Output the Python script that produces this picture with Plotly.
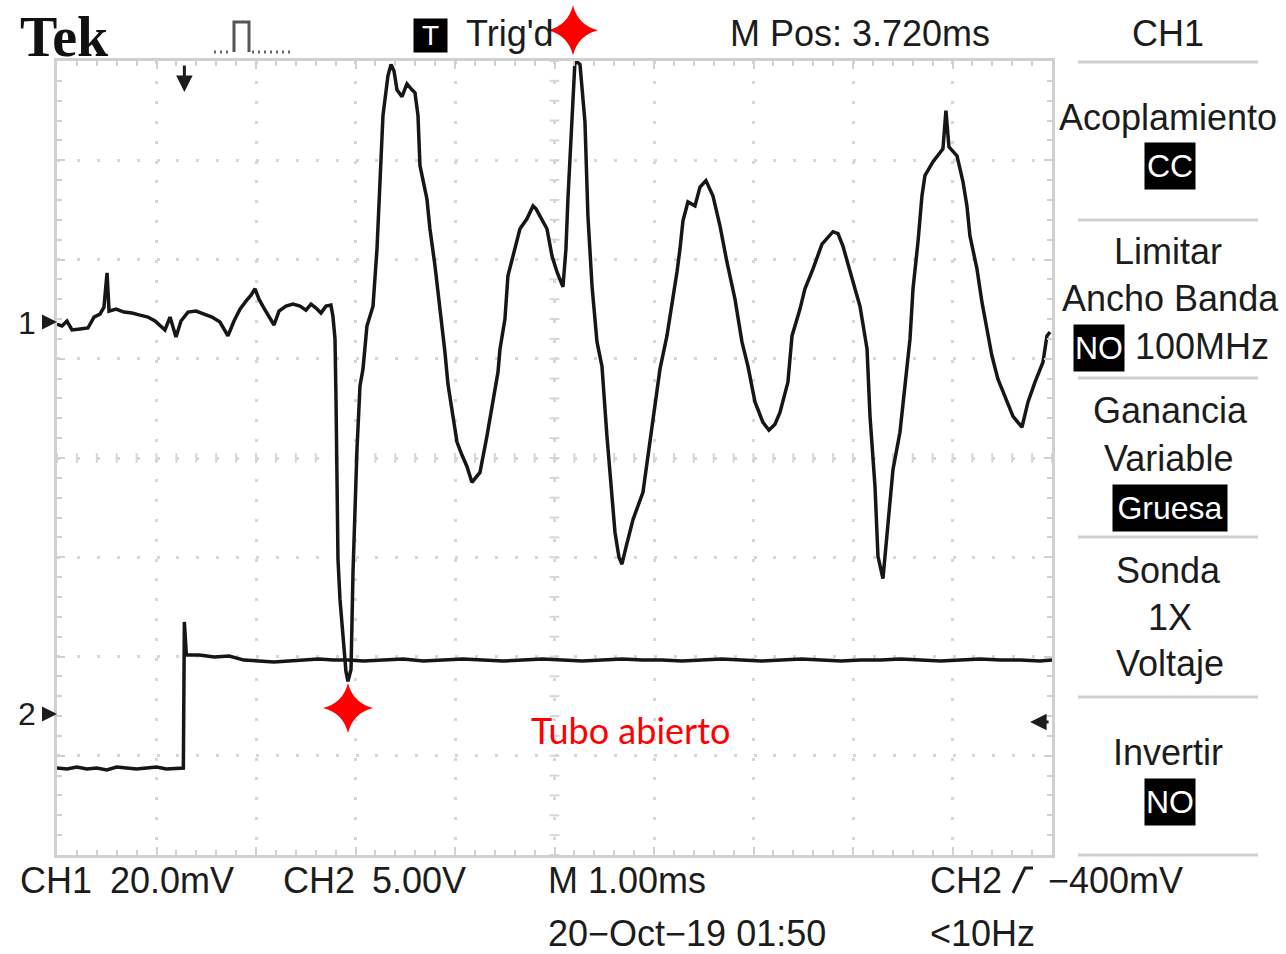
import numpy as np
import plotly.graph_objects as go

# ---- readings taken off the screen (time in ms, CH1 in mV, CH2 in V) ----
ch1_time_ms = [
    -1.280, -1.230, -1.180, -1.129, -1.049, -0.969, -0.908, -0.848, -0.808, -0.777,
    -0.757, -0.687, -0.607, -0.526, -0.446, -0.366, -0.295, -0.245, -0.195, -0.144,
    -0.084, -0.034, 0.037, 0.117, 0.197, 0.278, 0.358, 0.438, 0.499, 0.559,
    0.619, 0.670, 0.710, 0.750, 0.800, 0.861, 0.901, 0.951, 1.021, 1.092,
    1.162, 1.222, 1.273, 1.323, 1.373, 1.423, 1.473, 1.493, 1.514, 1.524,
    1.534, 1.544, 1.564, 1.594, 1.624, 1.644, 1.675, 1.695, 1.715, 1.735,
    1.765, 1.795, 1.835, 1.896, 1.936, 1.966, 1.996, 2.046, 2.077, 2.107,
    2.137, 2.187, 2.237, 2.288, 2.318, 2.348, 2.368, 2.438, 2.468, 2.519,
    2.569, 2.619, 2.649, 2.700, 2.740, 2.790, 2.840, 2.890, 2.931, 2.971,
    3.041, 3.102, 3.152, 3.172, 3.222, 3.252, 3.323, 3.373, 3.443, 3.504,
    3.534, 3.574, 3.644, 3.695, 3.745, 3.805, 3.835, 3.855, 3.896, 3.926,
    3.976, 4.026, 4.056, 4.097, 4.147, 4.197, 4.247, 4.298, 4.328, 4.368,
    4.398, 4.438, 4.509, 4.609, 4.680, 4.730, 4.780, 4.850, 4.901, 4.951,
    4.981, 5.011, 5.061, 5.132, 5.182, 5.242, 5.313, 5.383, 5.453, 5.534,
    5.604, 5.664, 5.735, 5.815, 5.875, 5.936, 5.986, 6.066, 6.107, 6.187,
    6.237, 6.318, 6.408, 6.519, 6.569, 6.619, 6.720, 6.790, 6.861, 6.891,
    6.941, 6.971, 7.021, 7.072, 7.122, 7.192, 7.242, 7.293, 7.323, 7.373,
    7.413, 7.443, 7.524, 7.574, 7.624, 7.654, 7.684, 7.765, 7.825, 7.865,
    7.895, 7.966, 8.016, 8.066, 8.116, 8.177, 8.267, 8.328, 8.418, 8.479,
    8.549, 8.629, 8.669, 8.700,
]
ch1_mv = [
    -0.4, -0.8, 0.2, -1.6, -1.4, -1.2, 1.0, 1.6, 3.0, 9.9,
    2.2, 2.6, 2.0, 1.8, 1.4, 1.0, 0.2, -0.8, -1.6, 1.0,
    -3.0, 0.2, 2.0, 2.2, 1.6, 1.0, 0.0, -2.8, 0.2, 2.6,
    4.2, 5.4, 6.7, 4.6, 2.8, 0.6, -0.6, 2.2, 3.2, 3.6,
    3.2, 2.4, 3.6, 2.8, 1.8, 3.2, 3.4, 1.2, -3.4, -15.5,
    -31.7, -47.8, -55.9, -64.0, -70.4, -72.4, -70.0, -50.4, -35.7, -25.6,
    -12.9, -9.5, -0.8, 3.2, 14.7, 30.3, 41.6, 49.6, 51.9, 50.6,
    46.8, 45.4, 48.0, 46.8, 46.2, 41.6, 31.5, 24.8, 18.8, 11.3,
    3.2, -6.1, -12.5, -19.0, -24.2, -26.8, -29.1, -32.3, -31.3, -30.3,
    -23.0, -16.2, -10.1, -5.5, 0.6, 9.3, 14.7, 18.8, 20.8, 23.4,
    22.8, 21.4, 18.8, 13.3, 10.1, 7.1, 14.7, 24.8, 41.0, 52.7,
    51.9, 40.4, 21.4, 7.3, -4.0, -8.9, -23.0, -34.3, -42.4, -47.4,
    -48.8, -45.4, -39.8, -34.3, -24.2, -17.0, -9.5, -2.8, 3.2, 10.1,
    14.7, 20.4, 24.2, 23.4, 27.2, 28.5, 25.4, 19.4, 12.1, 4.6,
    -4.0, -8.9, -16.1, -20.2, -21.8, -20.6, -18.2, -12.1, -2.8, 2.6,
    6.7, 10.7, 15.7, 18.2, 17.8, 15.3, 8.1, 3.2, -5.4, -19.0,
    -33.1, -47.2, -51.7, -41.2, -29.7, -22.2, -12.9, -3.4, 6.7, 16.1,
    25.4, 29.5, 32.3, 33.5, 34.9, 42.6, 35.3, 33.5, 28.3, 23.4,
    17.4, 10.7, 4.0, -1.4, -6.8, -11.5, -16.1, -19.0, -21.2, -16.1,
    -12.1, -8.1, -2.8, -2.0,
]

ch2_time_ms = [
    -1.28, -1.18, -1.08, -0.98, -0.88, -0.78, -0.68, -0.58, -0.48, -0.38,
    -0.28, -0.18, -0.08, -0.01, 0.0, 0.02, 0.15, 0.3, 0.45, 0.6,
    0.75, 0.9, 1.05, 1.2, 1.35, 1.5, 1.65, 1.8, 2.0, 2.2,
    2.4, 2.6, 2.8, 3.0, 3.2, 3.4, 3.6, 3.8, 4.0, 4.2,
    4.4, 4.6, 4.8, 5.0, 5.2, 5.4, 5.6, 5.8, 6.0, 6.2,
    6.4, 6.6, 6.8, 7.0, 7.2, 7.4, 7.6, 7.8, 8.0, 8.2,
    8.4, 8.6, 8.72,
]
ch2_v = [
    -2.72, -2.77, -2.67, -2.77, -2.72, -2.82, -2.67, -2.72, -2.77, -2.72,
    -2.67, -2.77, -2.72, -2.72, 4.64, 2.97, 2.97, 2.87, 2.92, 2.72,
    2.67, 2.62, 2.67, 2.72, 2.77, 2.72, 2.72, 2.67, 2.72, 2.77,
    2.67, 2.72, 2.77, 2.72, 2.67, 2.72, 2.77, 2.72, 2.67, 2.72,
    2.77, 2.72, 2.72, 2.67, 2.72, 2.77, 2.72, 2.67, 2.72, 2.77,
    2.72, 2.67, 2.72, 2.72, 2.77, 2.72, 2.67, 2.72, 2.77, 2.72,
    2.72, 2.67, 2.72,
]

# screen settings
ch1_scale_mv = 20.0      # mV/div
ch2_scale_v = 5.0        # V/div
time_scale_ms = 1.0      # ms/div
m_pos_ms = 3.72          # time at screen centre
ch1_ground_div = 1.37    # ground marker, divisions above centre
ch2_ground_div = -2.58
trig_level_v = -0.4

# red markers (time ms, divisions from centre)
star_time_ms = [3.906, 1.645]
star_div = [4.31, -2.52]

# ---- layout geometry (pixels) ----
W, H = 1286, 954
L, R, T, B = 57, 234, 61, 99
PW, PH = W - L - R, H - T - B


def px(x):
    return (x - L) / PW


def py(y):
    return (H - B - y) / PH


FONT = "Liberation Sans, Arial, sans-serif"
INK = "#1c1c1c"
GRID = "#d6d6d6"

t_left = m_pos_ms - 5 * time_scale_ms
t_right = m_pos_ms + 5 * time_scale_ms

fig = go.Figure()

# centre cross tick marks
cross_x = np.arange(t_left, t_right + 1e-9, time_scale_ms / 5)
cross_y = np.arange(-4, 4 + 1e-9, 0.2)
fig.add_trace(go.Scatter(
    x=cross_x, y=np.zeros_like(cross_x), mode="markers", hoverinfo="skip",
    marker=dict(symbol="line-ns-open", size=7, color=GRID, line=dict(color=GRID, width=2)),
))
fig.add_trace(go.Scatter(
    x=np.full_like(cross_y, m_pos_ms), y=cross_y, mode="markers", hoverinfo="skip",
    marker=dict(symbol="line-ew-open", size=7, color=GRID, line=dict(color=GRID, width=2)),
))

fig.add_trace(go.Scatter(
    x=ch2_time_ms, y=ch2_v, yaxis="y3", mode="lines",
    line=dict(color="#161616", width=3.5),
))
fig.add_trace(go.Scatter(
    x=ch1_time_ms, y=ch1_mv, yaxis="y2", mode="lines",
    line=dict(color="#161616", width=3.5),
))

grid_axis = dict(
    showgrid=True, gridcolor=GRID, gridwidth=3, griddash="3px,16.9px",
    showticklabels=False, zeroline=False,
    showline=True, linecolor="#d0d0d0", linewidth=3, mirror="ticks",
    ticks="inside", ticklen=8, tickwidth=2, tickcolor="#d0d0d0",
)

ann = []


def label(text, x, y, size=36, xanchor="center", color=INK, family=FONT, **kw):
    ann.append(dict(
        text=text, x=px(x), y=py(y), xref="paper", yref="paper",
        xanchor=xanchor, yanchor="middle", showarrow=False,
        font=dict(family=family, size=size, color=color), **kw,
    ))


def boxed(text, x, y, w, h, size=32):
    label(text, x, y, size=size, color="white", bgcolor="black",
          width=w, height=h, borderpad=0)


# header
label("<b>Tek</b>", 18, 37, size=56, xanchor="left", color="#111",
      family="Liberation Serif, DejaVu Serif, serif")
boxed("T", 430, 35, 33, 33, size=28)
label("Trig'd", 464, 33, xanchor="left")
label("M Pos: 3.720ms", 728, 33, xanchor="left")
label("CH1", 1168, 33)

# side menu
label("Acoplamiento", 1168, 117)
boxed("CC", 1170, 166, 50, 46)
label("Limitar", 1168, 252)
label("Ancho Banda", 1170, 298)
boxed("NO", 1099, 348, 50, 46)
label("100MHz", 1133, 347, xanchor="left")
label("Ganancia", 1170, 410)
label("Variable", 1168, 458)
boxed("Gruesa", 1170, 508, 114, 46)
label("Sonda", 1168, 570)
label("1X", 1170, 617)
label("Voltaje", 1170, 663)
label("Invertir", 1168, 752)
boxed("NO", 1170, 802, 50, 46)

# footer
label("CH1", 18, 880, xanchor="left")
label("20.0mV", 108, 880, xanchor="left")
label("CH2", 281, 880, xanchor="left")
label("5.00V", 370, 880, xanchor="left")
label("M 1.00ms", 546, 880, xanchor="left")
label("CH2", 928, 880, xanchor="left")
label("−400mV", 1046, 880, xanchor="left")
label("20−Oct−19 01:50", 546, 933, xanchor="left")
label("&lt;10Hz", 928, 933, xanchor="left")

# channel markers
label("1", 27, 323, size=32)
label("2", 27, 714, size=32)
ann.append(dict(x=t_left, y=0, xref="x", yref="y2", ax=-14, ay=0, text="",
                showarrow=True, arrowhead=2, arrowsize=1, arrowwidth=3, arrowcolor=INK))
ann.append(dict(x=t_left, y=0, xref="x", yref="y3", ax=-14, ay=0, text="",
                showarrow=True, arrowhead=2, arrowsize=1, arrowwidth=3, arrowcolor=INK))
# trigger position and level
ann.append(dict(x=0, y=py(92), xref="x", yref="paper", ax=0, ay=-28, text="",
                showarrow=True, arrowhead=2, arrowsize=1.1, arrowwidth=3, arrowcolor=INK))
ann.append(dict(x=8.5, y=trig_level_v, xref="x", yref="y3", ax=20, ay=0, text="",
                showarrow=True, arrowhead=2, arrowsize=1.1, arrowwidth=3, arrowcolor=INK))

label("Tubo abierto", 630, 730, size=36, color="#ff0000",
      family="Lato, Open Sans, Noto Sans, sans-serif")

shapes = []
# red four-point stars, placed from the time / division readings
arm_x, arm_y = 25 / PW, 25 / PH
pin_x, pin_y = 5 / PW, 5 / PH
for t, d in zip(star_time_ms, star_div):
    cx = (t - t_left) / (t_right - t_left)
    cy = (d + 4) / 8
    path = (f"M {cx + arm_x},{cy} Q {cx + pin_x},{cy + pin_y} {cx},{cy + arm_y} "
            f"Q {cx - pin_x},{cy + pin_y} {cx - arm_x},{cy} "
            f"Q {cx - pin_x},{cy - pin_y} {cx},{cy - arm_y} "
            f"Q {cx + pin_x},{cy - pin_y} {cx + arm_x},{cy} Z")
    shapes.append(dict(type="path", xref="paper", yref="paper", path=path,
                       fillcolor="#ff0000", line=dict(width=0), layer="above"))
# menu separators
for yy in [62, 220, 378, 537, 697, 855]:
    shapes.append(dict(type="line", xref="paper", yref="paper",
                       x0=px(1078), x1=px(1258), y0=py(yy), y1=py(yy),
                       line=dict(color="#cfcfcf", width=3)))
# acquisition icon
shapes.append(dict(type="path", xref="paper", yref="paper",
                   path=f"M {px(234)},{py(52)} L {px(234)},{py(22)} L {px(249)},{py(22)} L {px(249)},{py(52)}",
                   line=dict(color="#555", width=3)))
for x0, x1 in [(214, 232), (252, 290)]:
    shapes.append(dict(type="line", xref="paper", yref="paper",
                       x0=px(x0), x1=px(x1), y0=py(52), y1=py(52),
                       line=dict(color="#666", width=3, dash="2px,4px")))
# rising edge icon
shapes.append(dict(type="path", xref="paper", yref="paper",
                   path=f"M {px(1013)},{py(893)} L {px(1025)},{py(868)} L {px(1033)},{py(868)}",
                   line=dict(color=INK, width=3)))

fig.update_layout(
    width=W, height=H,
    margin=dict(l=L, r=R, t=T, b=B),
    paper_bgcolor="white", plot_bgcolor="white",
    showlegend=False,
    xaxis=dict(range=[t_left, t_right], tick0=t_left, dtick=time_scale_ms,
               minor=dict(tick0=t_left, dtick=time_scale_ms / 5, ticks="inside", ticklen=5,
                          tickwidth=2, tickcolor="#d0d0d0", showgrid=False),
               **grid_axis),
    yaxis=dict(range=[-4, 4], tick0=0, dtick=1,
               minor=dict(tick0=0, dtick=0.2, ticks="inside", ticklen=5,
                          tickwidth=2, tickcolor="#d0d0d0", showgrid=False),
               **grid_axis),
    yaxis2=dict(overlaying="y", visible=False,
                range=[(-4 - ch1_ground_div) * ch1_scale_mv, (4 - ch1_ground_div) * ch1_scale_mv]),
    yaxis3=dict(overlaying="y", visible=False,
                range=[(-4 - ch2_ground_div) * ch2_scale_v, (4 - ch2_ground_div) * ch2_scale_v]),
    annotations=ann,
    shapes=shapes,
)

fig.write_html("out.html", config={"displayModeBar": False},
               post_script="document.body.style.margin='0';")
